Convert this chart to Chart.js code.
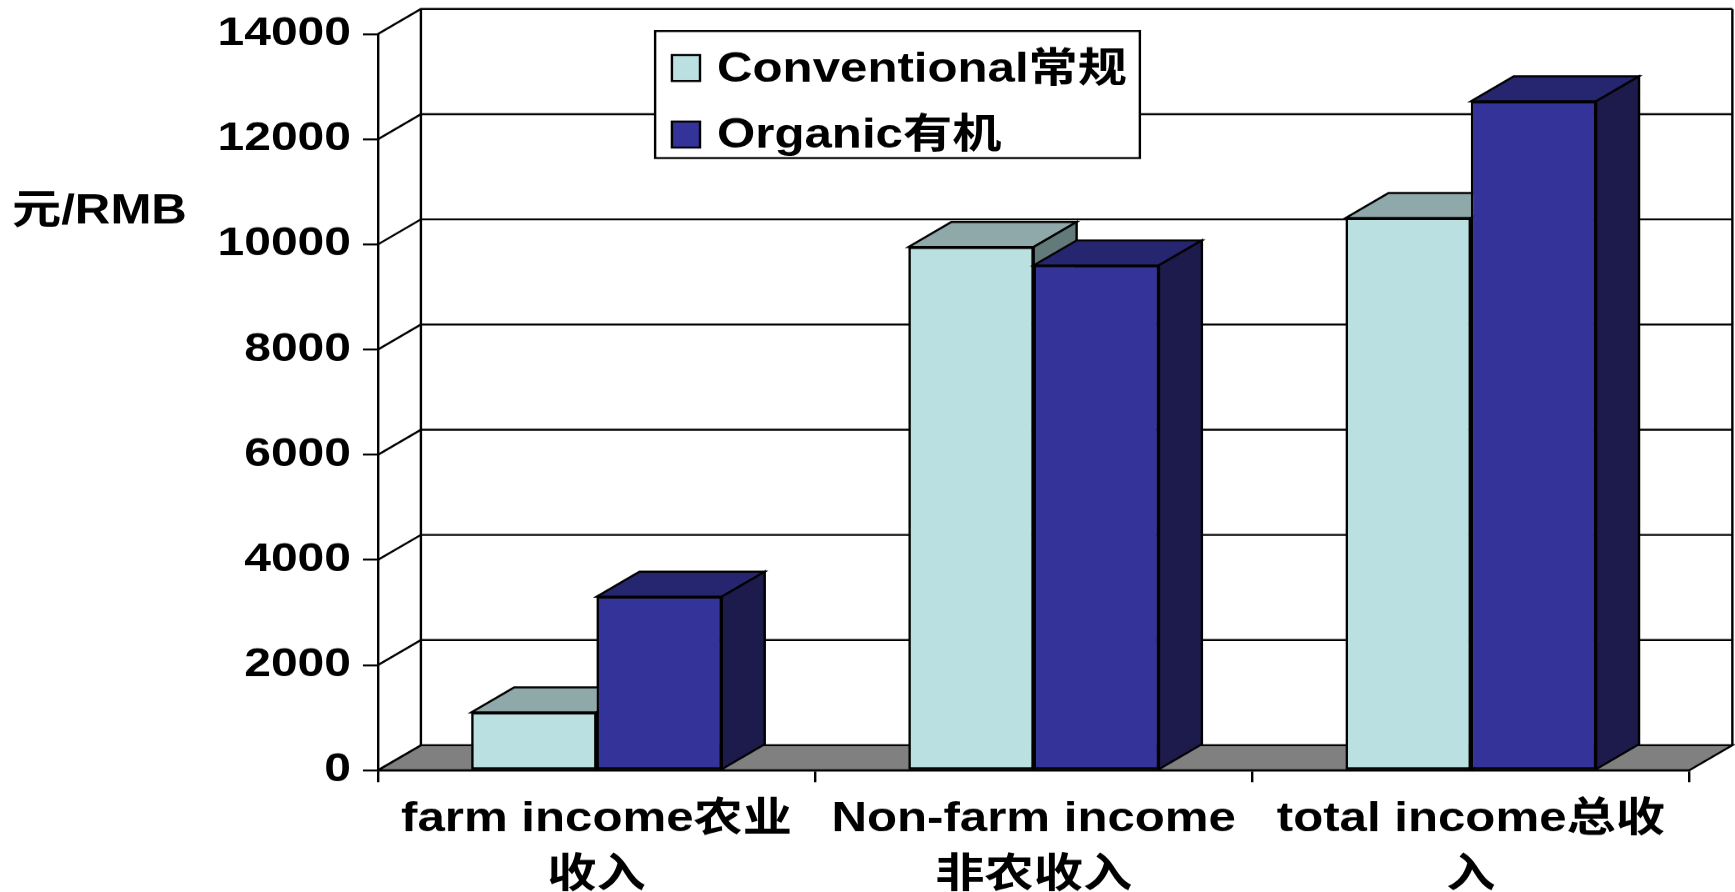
<!DOCTYPE html>
<html>
<head>
<meta charset="utf-8">
<title>农户收入比较</title>
<script src="https://cdn.jsdelivr.net/npm/chart.js@4/dist/chart.umd.min.js"></script>
<style>
  html, body { margin: 0; padding: 0; background: #ffffff; overflow: hidden; }
  /* the figure is laid out narrower and widened as a whole, text included */
  #wrap { width: 1446px; height: 892px; transform: scaleX(1.19986); transform-origin: 0 0; }
  canvas { display: block; }
</style>
</head>
<body>
<div id="wrap"><canvas id="chart" width="1446" height="892"></canvas></div>
<script>
// ---- data ----
const CATEGORIES = [
  ['farm income农业', '收入'],
  ['Non-farm income', '非农收入'],
  ['total income总收', '入']
];
const SERIES_NAMES = ['Conventional常规', 'Organic有机'];
const CONVENTIONAL = [1100, 9950, 10500];
const ORGANIC = [3300, 9600, 12720];
const Y_MIN = 0;
const Y_MAX = 14000;
const Y_STEP = 2000;
const Y_TITLE = '元/RMB';

// ---- styling ----
const STRETCH = 1735 / 1446;
const FONT = "'Liberation Sans', Arial, 'Noto Sans CJK SC', sans-serif";
const DX = 35.8;     // depth offset of the 3D box, horizontal
const DY = -25;      // depth offset of the 3D box, vertical
const FACE = {
  conv:    { front: '#BAE0E2', top: '#8FA8AA', side: '#637A7B' },
  organic: { front: '#343399', top: '#262670', side: '#1C1B4C' }
};
const FLOOR = '#808080';
const INK = '#000000';

function poly(ctx, pts, fill) {
  ctx.beginPath();
  ctx.moveTo(pts[0][0], pts[0][1]);
  for (let i = 1; i < pts.length; i++) ctx.lineTo(pts[i][0], pts[i][1]);
  ctx.closePath();
  if (fill) { ctx.fillStyle = fill; ctx.fill(); }
  ctx.stroke();
}

// back wall, side wall and floor of the 3D box
const wallPlugin = {
  id: 'walls',
  beforeDatasetsDraw(chart) {
    const { ctx, chartArea: { left, right }, scales: { y } } = chart;
    const y0 = y.getPixelForValue(Y_MIN);
    const yTop = y.getPixelForValue(Y_MAX);
    ctx.save();
    ctx.lineWidth = 2;
    ctx.strokeStyle = INK;
    ctx.lineJoin = 'miter';
    poly(ctx, [[left, y0], [right, y0], [right + DX, y0 + DY], [left + DX, y0 + DY]], FLOOR);
    y.ticks.forEach(t => {
      if (t.value === Y_MIN) return;
      const py = y.getPixelForValue(t.value);
      ctx.beginPath();
      ctx.moveTo(left, py);
      ctx.lineTo(left + DX, py + DY);
      ctx.lineTo(right + DX, py + DY);
      ctx.stroke();
    });
    ctx.beginPath();
    ctx.moveTo(left + DX, yTop + DY); ctx.lineTo(left + DX, y0 + DY);
    ctx.moveTo(right + DX, yTop + DY); ctx.lineTo(right + DX, y0 + DY);
    ctx.stroke();
    ctx.restore();
  },
  // bars are repainted category by category so nearer faces cover farther ones
  afterDatasetsDraw(chart) {
    const { ctx } = chart;
    const keys = ['conv', 'organic'];
    const metas = chart.data.datasets.map((d, i) => chart.getDatasetMeta(i));
    ctx.save();
    for (let j = 0; j < chart.data.labels.length; j++) {
      metas.forEach((meta, i) => {
        const el = meta.data[j];
        const face = FACE[keys[i]];
        el.draw(ctx);
        const { x, y, base, width } = el.getProps(['x', 'y', 'base', 'width'], true);
        const x1 = x - width / 2, x2 = x + width / 2;
        ctx.lineWidth = 2;
        ctx.strokeStyle = INK;
        ctx.lineJoin = 'miter';
        poly(ctx, [[x1, y], [x2, y], [x2 + DX, y + DY], [x1 + DX, y + DY]], face.top);
        poly(ctx, [[x2, y], [x2 + DX, y + DY], [x2 + DX, base + DY], [x2, base]], face.side);
      });
    }
    ctx.restore();
  },
  afterDraw(chart) {
    const { ctx } = chart;
    ctx.save();
    // axis title
    ctx.fillStyle = INK;
    ctx.font = 'bold 41px ' + FONT;
    ctx.textAlign = 'left';
    ctx.textBaseline = 'middle';
    ctx.fillText(Y_TITLE, 10, 212);
    // legend
    const box = { x: 546, y: 31, w: 404, h: 127 };
    ctx.fillStyle = '#ffffff';
    ctx.fillRect(box.x, box.y, box.w, box.h);
    ctx.lineWidth = 2;
    ctx.strokeStyle = INK;
    ctx.strokeRect(box.x, box.y, box.w, box.h);
    ctx.font = 'bold 41px ' + FONT;
    chart.data.datasets.forEach((ds, i) => {
      const cy = 68 + i * 66.5;
      ctx.fillStyle = ds.backgroundColor;
      ctx.fillRect(560, cy - 13, 23.4, 26);
      ctx.strokeRect(560, cy - 13, 23.4, 26);
      ctx.fillStyle = INK;
      ctx.fillText(ds.label, 597.6, cy + 2);
    });
    ctx.restore();
  }
};

new Chart(document.getElementById('chart'), {
  type: 'bar',
  data: {
    labels: CATEGORIES,
    datasets: [
      {
        label: SERIES_NAMES[0],
        data: CONVENTIONAL,
        backgroundColor: FACE.conv.front,
        borderColor: INK,
        borderWidth: 2,
        borderSkipped: false
      },
      {
        label: SERIES_NAMES[1],
        data: ORGANIC,
        backgroundColor: FACE.organic.front,
        borderColor: INK,
        borderWidth: 2,
        borderSkipped: false
      }
    ]
  },
  options: {
    responsive: false,
    devicePixelRatio: STRETCH,
    animation: false,
    categoryPercentage: 0.573,
    barPercentage: 1.0,
    layout: { padding: { top: 33, right: 38, left: 0, bottom: 0 } },
    plugins: {
      legend: { display: false },
      tooltip: { enabled: false },
      title: { display: false }
    },
    scales: {
      x: {
        offset: true,
        afterFit: (scale) => { scale.height = 122; },
        grid: {
          offset: true,
          drawOnChartArea: false,
          drawTicks: true,
          tickLength: 12,
          color: INK,
          lineWidth: 2
        },
        border: { display: true, color: INK, width: 2 },
        ticks: {
          color: INK,
          font: { family: FONT, size: 41, weight: 'bold', lineHeight: 1.38 },
          padding: 9,
          maxRotation: 0,
          minRotation: 0,
          autoSkip: false
        }
      },
      y: {
        min: Y_MIN,
        max: Y_MAX,
        afterFit: (scale) => { scale.width = 315; },
        grid: {
          drawOnChartArea: false,
          drawTicks: true,
          tickLength: 12.5,
          color: INK,
          lineWidth: 2
        },
        border: { display: true, color: INK, width: 2 },
        ticks: {
          stepSize: Y_STEP,
          color: INK,
          font: { family: FONT, size: 40, weight: 'bold' },
          padding: 10,
          callback: (v) => String(v)
        }
      }
    }
  },
  plugins: [wallPlugin]
});
</script>
</body>
</html>
